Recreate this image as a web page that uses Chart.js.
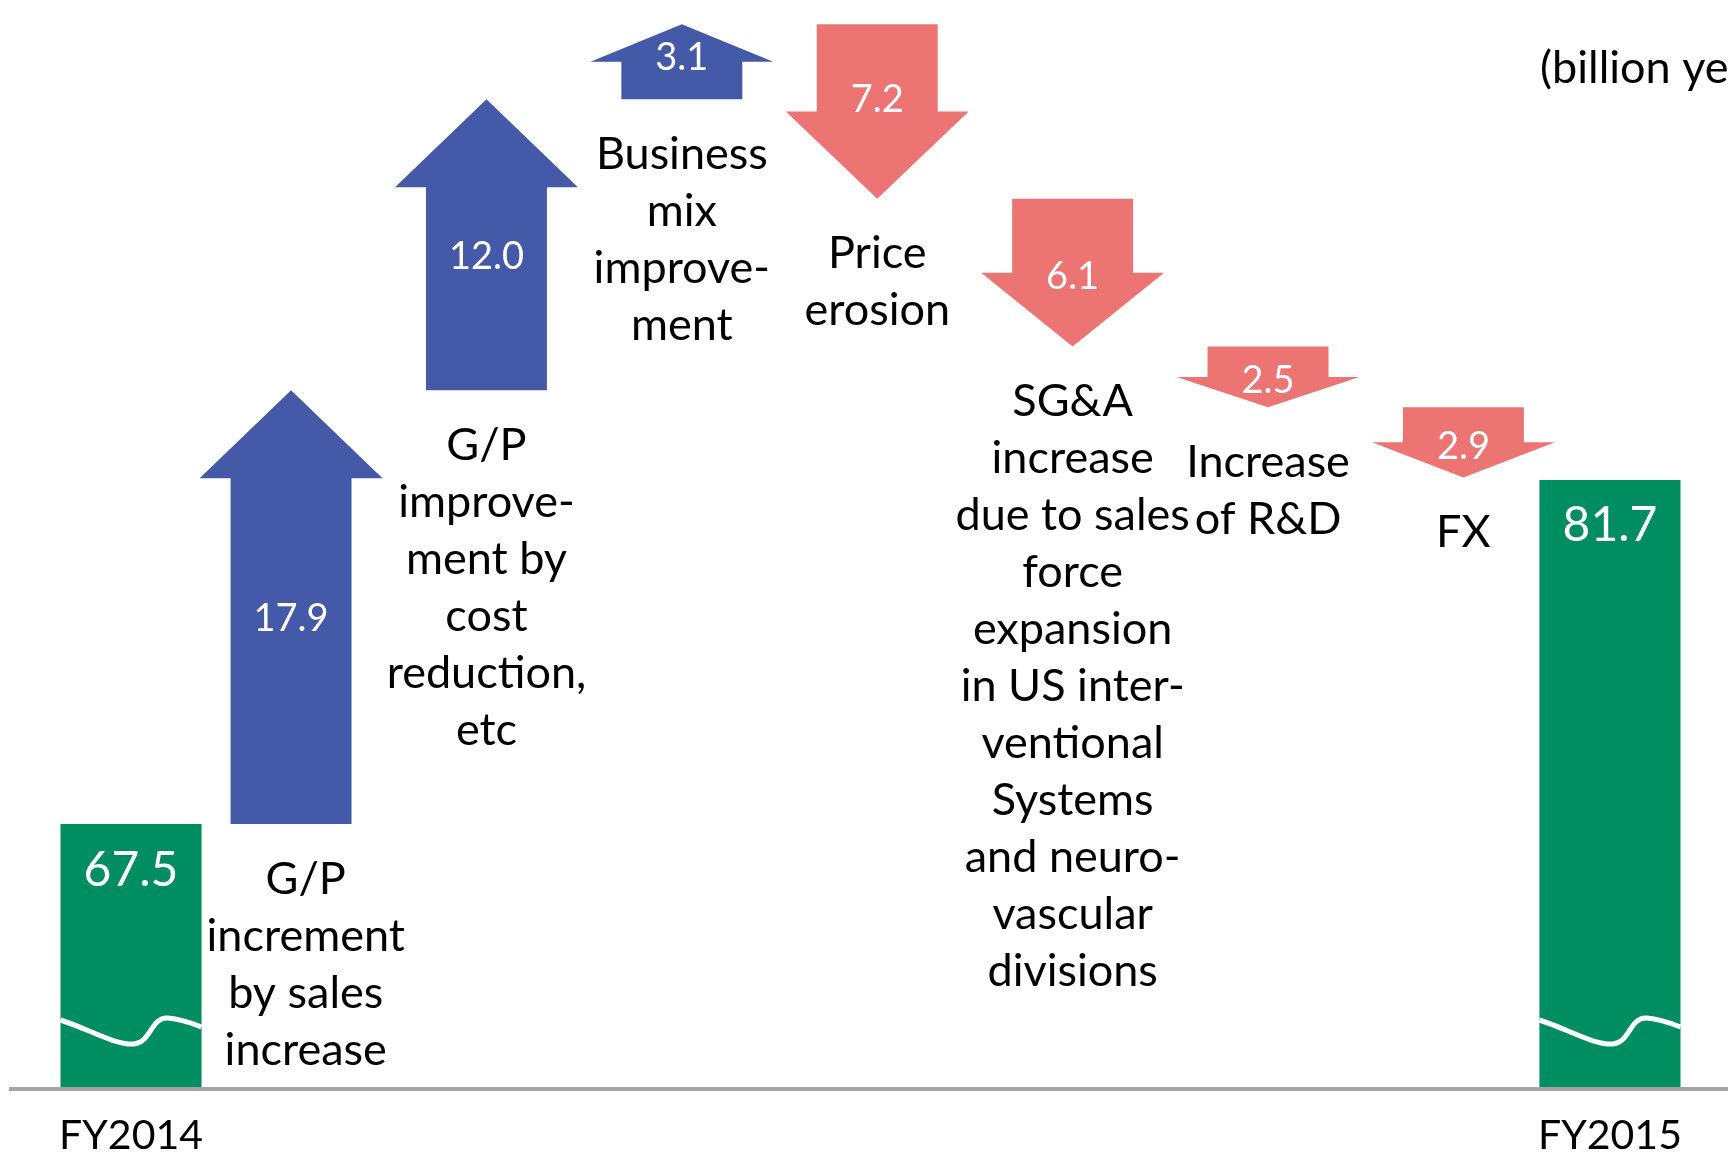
<!DOCTYPE html>
<html><head><meta charset="utf-8">
<script src="https://cdn.jsdelivr.net/npm/chart.js@4/dist/chart.umd.min.js"></script>
<style>html,body{margin:0;padding:0;background:#fff;overflow:hidden}#wrap{width:1728px;height:1154px;position:relative}</style>
</head><body><div id="wrap"><canvas id="c" width="1728" height="1154"></canvas></div>
<script>
// ---- data ----
const categories = ['FY2014','G/P increment by sales increase','G/P improvement by cost reduction, etc','Business mix improvement','Price erosion','SG&A increase','Increase of R&D','FX','FY2015'];
const categoryLines = [
  null,
  ['G/P','increment','by sales','increase'],
  ['G/P','improve-','ment by','cost','reduction,','etc'],
  ['Business','mix','improve-','ment'],
  ['Price','erosion'],
  ['SG&A','increase','due to sales','force','expansion','in US inter-','ventional','Systems','and neuro-','vascular','divisions'],
  ['Increase','of R&D'],
  ['FX'],
  null
];
const tickLabels = ['FY2014','','','','','','','','FY2015'];
const totals = [67.5, null, null, null, null, null, null, null, 81.7];
const changes = [null, 17.9, 12.0, 3.1, -7.2, -6.1, -2.5, -2.9, null];
const unitLabel = '(billion yen)';
const axisMin = 56.57, axisMax = 101.5;

// ---- build floating bars (waterfall) from data ----
let run = totals[0];
const arrowData = [];
changes.forEach((d, i) => {
  if (d == null) return;
  const s = run; run = +(run + d).toFixed(2);
  arrowData.push({ x: i, y: [s, run], idx: i });
});
const fmt = v => Math.abs(v).toFixed(1);

const GREEN = '#008D5F', BLUE = '#4459A8', RED = '#EC7574';
const FONT = 'Lato, "Open Sans", sans-serif';

const arrowPlugin = {
  id: 'arrows',
  afterDatasetsDraw(chart) {
    const ctx = chart.ctx, y = chart.scales.y;
    const by = y.getPixelForValue(axisMin);
    const tm = chart.getDatasetMeta(0);
    // arrows
    const meta = chart.getDatasetMeta(1);
    meta.data.forEach((el, j) => {
      const p = arrowData[j], i = p.idx;
      const x = el.x, hw = el.width / 2, wing = el.width * 0.256;
      const yT = y.getPixelForValue(p.y[0]), yP = y.getPixelForValue(p.y[1]);
      const len = Math.abs(yP - yT), dir = yP > yT ? 1 : -1;
      const head = Math.min(len / 2, 88);
      const yB = yP - dir * head;
      ctx.save();
      ctx.fillStyle = changes[i] >= 0 ? BLUE : RED;
      ctx.beginPath();
      ctx.moveTo(x - hw, yT); ctx.lineTo(x - hw, yB); ctx.lineTo(x - hw - wing, yB);
      ctx.lineTo(x, yP); ctx.lineTo(x + hw + wing, yB); ctx.lineTo(x + hw, yB); ctx.lineTo(x + hw, yT);
      ctx.closePath(); ctx.fill();
      // value
      ctx.fillStyle = '#fff'; ctx.font = '38px ' + FONT; ctx.textAlign = 'center'; ctx.textBaseline = 'middle';
      const off = len > 150 ? -dir * 12 : dir * 4;
      ctx.fillText(fmt(changes[i]), x, (yT + yP) / 2 + off);
      // category text (kept clear of a neighbouring total bar)
      const lines = categoryLines[i];
      ctx.fillStyle = '#000'; ctx.font = '45px ' + FONT;
      const maxW = Math.max(...lines.map(t => ctx.measureText(t).width));
      let tx = x;
      const prev = totals[i - 1] != null ? tm.data[i - 1] : null;
      if (prev) { const edge = prev.x + prev.width / 2 + 5; if (tx - maxW / 2 < edge) tx = edge + maxW / 2; }
      const low = Math.max(yT, yP);
      lines.forEach((t, k) => ctx.fillText(t, tx, low + 55 + k * 57));
      ctx.restore();
    });
    // totals: labels + break marks
    tm.data.forEach((el, i) => {
      if (totals[i] == null) return;
      const x = el.x, w = el.width, l = x - w / 2, b = by;
      ctx.save();
      ctx.strokeStyle = '#fff'; ctx.lineWidth = 5;
      ctx.beginPath();
      ctx.moveTo(l, b - 69);
      ctx.bezierCurveTo(l + w * 0.2, b - 60, l + w * 0.38, b - 44, l + w * 0.52, b - 45);
      ctx.bezierCurveTo(l + w * 0.64, b - 46, l + w * 0.64, b - 72, l + w * 0.76, b - 71);
      ctx.bezierCurveTo(l + w * 0.85, b - 70, l + w * 0.93, b - 66, l + w, b - 62);
      ctx.stroke();
      ctx.fillStyle = '#fff'; ctx.font = '48px ' + FONT; ctx.textAlign = 'center'; ctx.textBaseline = 'middle';
      ctx.fillText(totals[i].toFixed(1), x, el.y + 46);
      ctx.restore();
    });
    // baseline
    ctx.save(); ctx.strokeStyle = '#A6A6A9'; ctx.lineWidth = 4;
    ctx.beginPath(); ctx.moveTo(9, by); ctx.lineTo(chart.width, by); ctx.stroke();
    // unit
    ctx.fillStyle = '#000'; ctx.font = '45px ' + FONT; ctx.textAlign = 'left'; ctx.textBaseline = 'middle';
    ctx.fillText(unitLabel, 1540, 68);
    ctx.restore();
  }
};

function draw() {
  new Chart(document.getElementById('c'), {
    type: 'bar',
    data: {
      labels: categories,
      datasets: [
        { label: 'Total', data: totals, xAxisID: 'x', backgroundColor: GREEN, barPercentage: 0.763, categoryPercentage: 1, grouped: false },
        { label: 'Change', data: arrowData, xAxisID: 'xa', backgroundColor: 'rgba(0,0,0,0)', barPercentage: 0.619, categoryPercentage: 1, grouped: false }
      ]
    },
    options: {
      responsive: false, animation: false, devicePixelRatio: 1,
      layout: { padding: { left: 38.6, right: 25.6, top: 0, bottom: 0 } },
      plugins: { legend: { display: false }, tooltip: { enabled: false } },
      scales: {
        x: {
          type: 'category',
          grid: { display: false, drawTicks: false }, border: { display: false },
          ticks: { callback: (v, i) => tickLabels[i], color: '#000', font: { family: FONT, size: 41 }, padding: 22, maxRotation: 0, autoSkip: false },
          afterFit: a => { a.height = 65; }
        },
        xa: { type: 'linear', display: false, offset: false, min: -0.292, max: 8.223 },
        y: { display: false, min: axisMin, max: axisMax }
      }
    },
    plugins: [arrowPlugin]
  });
}
(document.fonts ? document.fonts.load('45px Lato').then(draw, draw) : draw());
</script></body></html>
